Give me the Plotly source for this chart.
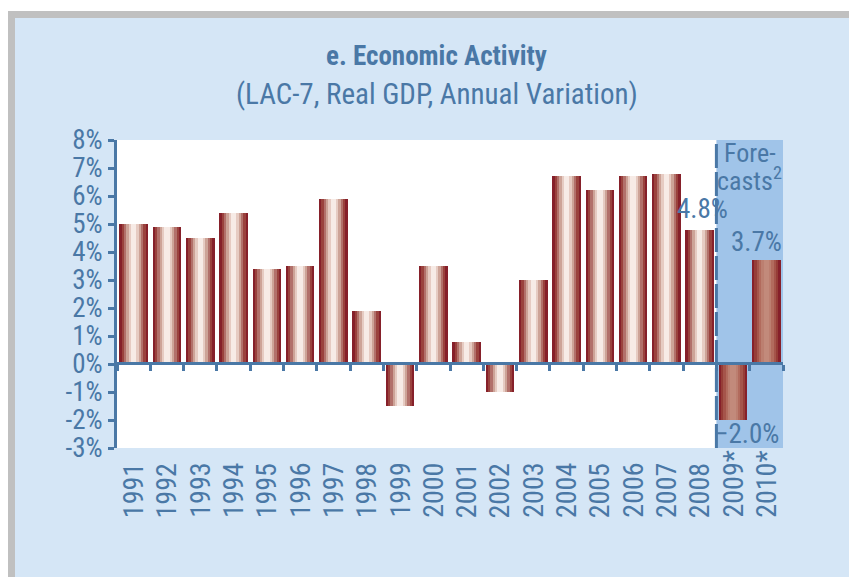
import plotly.graph_objects as go

# LAC-7 real GDP, annual variation (%)
years = ["1991", "1992", "1993", "1994", "1995", "1996", "1997", "1998", "1999", "2000",
         "2001", "2002", "2003", "2004", "2005", "2006", "2007", "2008", "2009*", "2010*"]
gdp_growth = [5.0, 4.9, 4.5, 5.4, 3.4, 3.5, 5.9, 1.9, -1.5, 3.5,
              0.8, -1.0, 3.0, 6.7, 6.2, 6.7, 6.8, 4.8, -2.0, 3.7]
is_forecast = [False] * 18 + [True] * 2
ytick_vals = [-3, -2, -1, 0, 1, 2, 3, 4, 5, 6, 7, 8]
ytick_text = ["-3%", "-2%", "-1%", "0%", "1%", "2%", "3%", "4%", "5%", "6%", "7%", "8%"]
labelled = {"2008": "4.8%", "2009*": "\u22122.0%", "2010*": "3.7%"}

# the page puts the figure 8px in from the top-left corner
OFF = 8
W, H = 857 - OFF, 577 - OFF
ML, MT = 117 - OFF, 140 - OFF
MR, MB = W - (783 - OFF), H - (448 - OFF)
PW, PH = W - ML - MR, H - MT - MB

BLUE = "#4a78a6"
BG = "#d5e6f6"
FC_BG = "#a0c4e9"
FONT = "Liberation Sans Narrow, Roboto Condensed, DejaVu Sans Condensed, Liberation Sans, sans-serif"


def px_x(px):
    # screen pixel -> paper fraction
    return (px - OFF - ML) / PW


def px_y(py):
    return (H - MB - (py - OFF)) / PH


# stripes of the cylinder-like bars: outer (dark) to inner (light)
widths = [0.86, 0.72, 0.58, 0.44, 0.30, 0.16]
hist_cols = ["#86202a", "#9a423d", "#b2706a", "#cda397", "#e6cbc2", "#f7ebe6"]
fc_cols = ["#86202a", "#963d37", "#a5544a", "#b26b5d", "#bc7f70", "#c28a7b"]

fig = go.Figure()
for w, hc, fc in zip(widths, hist_cols, fc_cols):
    fig.add_trace(go.Bar(
        x=years, y=gdp_growth, width=w,
        marker=dict(color=[fc if f else hc for f in is_forecast], line=dict(width=0)),
        hoverinfo="skip", showlegend=False))

shapes = [
    # forecast band and divider
    dict(type="rect", xref="x", yref="paper", x0=17.5, x1=19.5, y0=0, y1=1,
         fillcolor=FC_BG, line=dict(width=0), layer="below"),
    dict(type="line", xref="x", yref="paper", x0=17.5, x1=17.5, y0=0, y1=1,
         line=dict(color=BLUE, width=3, dash="24px,4px"), layer="above"),
    # frame of the panel
    dict(type="rect", xref="paper", yref="paper", x0=px_x(8), x1=px_x(857), y0=px_y(8), y1=px_y(11),
         fillcolor="white", line=dict(width=0)),
    dict(type="rect", xref="paper", yref="paper", x0=px_x(8), x1=px_x(857), y0=px_y(11), y1=px_y(18),
         fillcolor="#c0c0c0", line=dict(width=0)),
    dict(type="rect", xref="paper", yref="paper", x0=px_x(8), x1=px_x(15), y0=px_y(11), y1=px_y(577),
         fillcolor="#c0c0c0", line=dict(width=0)),
]

annotations = [
    dict(text="<b>e. Economic Activity</b>", xref="paper", yref="paper",
         x=px_x(436), y=px_y(56), yanchor="middle", showarrow=False,
         font=dict(size=27, color=BLUE)),
    dict(text="(LAC-7, Real GDP, Annual Variation)", xref="paper", yref="paper",
         x=px_x(437), y=px_y(94), yanchor="middle", showarrow=False,
         font=dict(size=29, color=BLUE)),
    dict(text="Fore-", xref="x", yref="paper", x=18.5, y=px_y(153), yanchor="middle",
         showarrow=False, font=dict(size=26, color=BLUE)),
    dict(text="casts<sup>2</sup>", xref="x", yref="paper", x=18.5, y=px_y(179), yanchor="middle",
         showarrow=False, font=dict(size=26, color=BLUE)),
]

# year labels, bottom aligned like the original (x as category index)
for i, yr in enumerate(years):
    annotations.append(dict(text=yr, xref="x", yref="paper", x=i, y=px_y(520),
                            yanchor="bottom", textangle=-90, showarrow=False,
                            font=dict(size=28, color=BLUE)))

# value labels on the last three bars
shift = {"2008": (3, 21), "2009*": (14, -14), "2010*": (-10, 18)}
for i, (yr, v) in enumerate(zip(years, gdp_growth)):
    if yr in labelled:
        dx, dy = shift[yr]
        annotations.append(dict(text=labelled[yr], xref="x", yref="y", x=i, y=v,
                                xshift=dx, yshift=dy, showarrow=False,
                                font=dict(size=27, color=BLUE)))

fig.update_layout(
    width=W, height=H,
    margin=dict(l=ML, r=MR, t=MT, b=MB, pad=0),
    paper_bgcolor=BG, plot_bgcolor="white",
    barmode="overlay", bargap=0,
    font=dict(family=FONT, color=BLUE),
    shapes=shapes, annotations=annotations,
    xaxis=dict(type="category", range=[-0.5, 19.5], anchor="free", position=px_y(363),
               showline=True, linecolor=BLUE, linewidth=3, showgrid=False, zeroline=False,
               ticks="outside", tickson="boundaries", ticklen=6, tickwidth=3, tickcolor=BLUE,
               showticklabels=False, fixedrange=True),
    yaxis=dict(range=[-3, 8], tickvals=ytick_vals, ticktext=ytick_text,
               showline=True, linecolor=BLUE, linewidth=3, showgrid=False, zeroline=False,
               ticks="outside", ticklen=6, tickwidth=3, tickcolor=BLUE,
               tickfont=dict(size=27, color=BLUE), fixedrange=True),
)

fig.write_html("out.html")
